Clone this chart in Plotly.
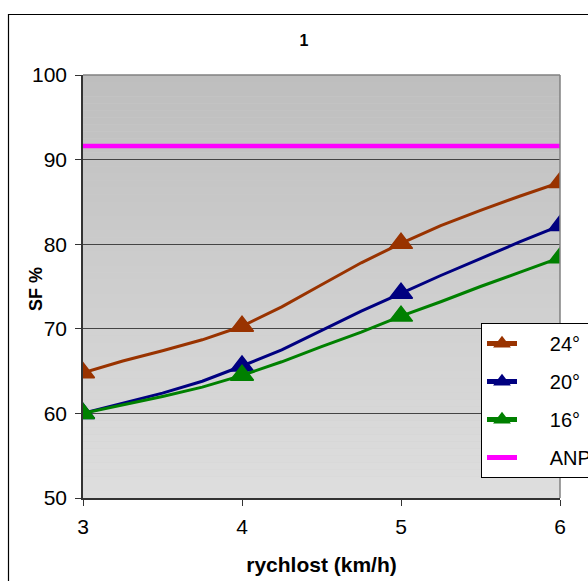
import plotly.graph_objects as go

# ---- data ----
X_FINE = [3, 3.25, 3.5, 3.75, 4, 4.25, 4.5, 4.75, 5, 5.25, 5.5, 5.75, 6]
S24 = [64.8, 66.2, 67.4, 68.7, 70.3, 72.6, 75.2, 77.8, 80.1, 82.2, 84.0, 85.7, 87.3]
S20 = [60.0, 61.2, 62.4, 63.8, 65.6, 67.5, 69.8, 72.1, 74.2, 76.3, 78.3, 80.3, 82.2]
S16 = [60.0, 61.0, 62.0, 63.1, 64.5, 66.1, 67.9, 69.6, 71.5, 73.2, 75.0, 76.7, 78.4]
ANP_X = [3, 6]
ANP_Y = [91.6, 91.6]
SERIES_NAMES = ["24°", "20°", "16°", "ANP"]
X_TICKS = [3, 4, 5, 6]
Y_TICKS = [50, 60, 70, 80, 90, 100]

COLORS = ["#993300", "#000080", "#008000", "#FF00FF"]
FONT = "Liberation Sans, Arial, sans-serif"

W, H = 588, 581
ML, MR, MT, MB = 83, 28, 75, 83
PW = W - ML - MR
PH = H - MT - MB

fig = go.Figure()

PAD = "\u00a0" * 5  # pushes legend text right, as in the original legend

marker_sizes = [20 if float(x).is_integer() else 0 for x in X_FINE]
for name, ys, col in zip(SERIES_NAMES[:3], [S24, S20, S16], COLORS[:3]):
    fig.add_trace(go.Scatter(
        x=X_FINE, y=ys, name=PAD + name, mode="lines+markers",
        line=dict(color=col, width=3),
        marker=dict(symbol="triangle-up", size=marker_sizes, color=col, opacity=1,
                    line=dict(color=col, width=1.5)),
        legendgroup=name,
    ))
fig.add_trace(go.Scatter(
    x=ANP_X, y=ANP_Y, name=PAD + SERIES_NAMES[3], mode="lines",
    line=dict(color=COLORS[3], width=4.5), legendgroup=SERIES_NAMES[3],
))

# gradient plot background (bands)
shapes = []
N = 60
top = (190, 190, 190)
bot = (222, 222, 222)
for i in range(N):
    t = i / (N - 1)
    c = tuple(round(bot[k] + (top[k] - bot[k]) * t) for k in range(3))
    shapes.append(dict(type="rect", xref="x domain", yref="y domain",
                       x0=0, x1=1, y0=i / N, y1=(i + 1) / N,
                       fillcolor="rgb(%d,%d,%d)" % c, line=dict(width=0),
                       layer="below"))
# plot-area border (grey): top and right edges
shapes.append(dict(type="line", xref="x domain", yref="y domain",
                   x0=0, x1=1, y0=1, y1=1, line=dict(color="#808080", width=1.5),
                   layer="above"))
shapes.append(dict(type="line", xref="x domain", yref="y domain",
                   x0=1, x1=1, y0=0, y1=1, line=dict(color="#808080", width=1.5),
                   layer="above"))
# chart-area border (black), running off the right/bottom edge
shapes.append(dict(type="rect", xref="paper", yref="paper",
                   x0=(8.5 - ML) / PW, x1=(W + 20 - ML) / PW,
                   y0=-(MB + 20) / PH, y1=(H - MB - 14.5) / PH,
                   line=dict(color="#000000", width=1.2), layer="above"))

fig.update_layout(
    width=W, height=H,
    margin=dict(l=ML, r=MR, t=MT, b=MB, autoexpand=False),
    paper_bgcolor="white",
    plot_bgcolor="rgb(206,206,206)",
    font=dict(family=FONT, color="black"),
    shapes=shapes,
    title=dict(text="<b>1</b>", x=(304 - ML) / PW, xref="paper", xanchor="center",
               y=1 - 40 / H, yanchor="middle", font=dict(size=16, family=FONT)),
    showlegend=True,
    legend=dict(x=(481 - ML) / PW, y=(H - MB - 323) / PH, xanchor="left", yanchor="top",
                bgcolor="white", bordercolor="black", borderwidth=1,
                font=dict(size=20, family=FONT), itemsizing="constant",
                tracegroupgap=9),
    annotations=[dict(text="<b>SF %</b>", textangle=-90, xref="paper", yref="paper",
                      x=(36 - ML) / PW, y=(H - MB - 289) / PH, xanchor="center",
                      yanchor="middle", showarrow=False,
                      font=dict(size=18, family=FONT))],
)

fig.update_xaxes(
    range=[3, 6], tickvals=X_TICKS, ticks="outside", ticklen=6, tickcolor="#333333",
    showline=True, linecolor="#333333", linewidth=1.5, showgrid=False, zeroline=False,
    tickfont=dict(size=21, family=FONT), ticklabelstandoff=3,
    title=dict(text="<b>rychlost (km/h)</b>", font=dict(size=21, family=FONT), standoff=20),
)
fig.update_yaxes(
    range=[50, 100], tickvals=Y_TICKS, ticks="outside", ticklen=6, tickcolor="#333333",
    showline=True, linecolor="#333333", linewidth=1.5,
    showgrid=True, gridcolor="#444444", gridwidth=1, zeroline=False,
    tickfont=dict(size=21, family=FONT), ticklabelstandoff=4,
)

fig.write_html("out.html")
